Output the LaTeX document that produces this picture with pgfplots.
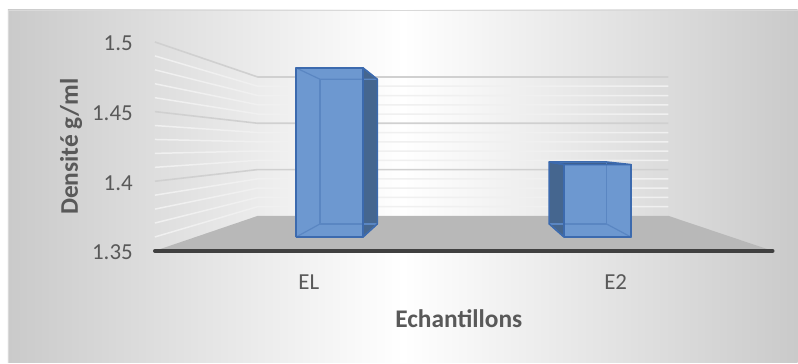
\documentclass[border=0pt]{standalone}
\usepackage{fontspec}
\setmainfont{Carlito}
\usepackage{pgfplots}
\usepackage{pgfplotstable}
\pgfplotsset{compat=1.18}

\definecolor{txt}{HTML}{595959}
\definecolor{barfront}{HTML}{6D98D0}
\definecolor{barside}{HTML}{45668F}
\definecolor{bartop}{HTML}{3F5F8C}
\definecolor{baredge}{HTML}{3C6AAE}
\definecolor{barinner}{HTML}{5A86C2}
\definecolor{floorgray}{HTML}{B8B8B8}
\definecolor{floorline}{HTML}{404040}
\definecolor{majorgrid}{HTML}{D0D0D0}
\definecolor{minorgrid}{HTML}{F0F0F0}
\definecolor{bgedge}{HTML}{CACACA}
\definecolor{frame}{HTML}{D9D9D9}

% density of each sample
\pgfplotstableread{
cat value
0   1.49
1   1.41
}\densite

% box corners: u = side (-1 left, 1 right), d = depth (0 front of floor, 1 back wall), h = 0 base / 1 top
\pgfplotstableread{
u  d    h
-1 0.30 0
1  0.30 0
1  0.30 1
-1 0.30 1
-1 0.30 0
}\faceFront
\pgfplotstableread{
u  d    h
-1 0.69 0
1  0.69 0
1  0.69 1
-1 0.69 1
-1 0.69 0
}\faceBack
\pgfplotstableread{
u  d    h
-1 0.30 0
-1 0.69 0
-1 0.69 1
-1 0.30 1
-1 0.30 0
}\faceLeft
\pgfplotstableread{
u  d    h
1  0.30 0
1  0.69 0
1  0.69 1
1  0.30 1
1  0.30 0
}\faceRight
\pgfplotstableread{
u  d    h
-1 0.30 1
1  0.30 1
1  0.69 1
-1 0.69 1
-1 0.30 1
}\faceTop
\pgfplotstableread{
u  d    h
-1 0.30 0
1  0.30 0
1  0.69 0
-1 0.69 0
-1 0.30 0
}\faceBottom

% wall gridline: along the left wall, then across the back wall
\pgfplotstableread{
X   d
155 0
155 1
773 1
}\gridpath
\pgfplotstableread{
X   d
155 0
773 0
773 1
155 1
155 0
}\floorpath
\pgfplotstableread{
X   d
155 0
773 0
}\floorfront

\pgfplotstablegetelem{0}{value}\of\densite \edef\valEL{\pgfplotsretval}
\pgfplotstablegetelem{1}{value}\of\densite \edef\valEII{\pgfplotsretval}

% one face of a column: #1 style, #2 category, #3 value, #4 corner table
\newcommand{\boxface}[4]{%
  \addplot[#1] table[
    x expr={fx(cx(#2,\thisrow{u}),\thisrow{d})},
    y expr={fy(1.35+\thisrow{h}*(#3-1.35),\thisrow{d})}] {#4};
}

\begin{document}
\begin{tikzpicture}[line join=round]
\begin{axis}[
  width=798bp, height=363bp, scale only axis,
  xmin=0, xmax=798, ymin=0, ymax=363, y dir=reverse,
  hide axis, clip=false,
  declare function={
    sc(\d)=1/(1+0.504*\d);
    fx(\X,\d)=462+(\X-462)*sc(\d);
    fy(\v,\d)=146.5+(104.5-(\v-1.35)/0.15*209)*sc(\d);
    cx(\c,\u)=155+(\c+0.5+0.125*\u)*309;
  },
]
% chart area
\fill[white] (axis cs:0,0) rectangle (axis cs:798,363);
\shade[left color=bgedge, right color=bgedge, middle color=white]
  (axis cs:8,10) rectangle (axis cs:798,363);
\draw[frame, line width=0.8] (axis cs:8,363) -- (axis cs:8,10) -- (axis cs:798,10);

% wall gridlines
\pgfplotsinvokeforeach{1.36,1.37,1.38,1.39,1.41,1.42,1.43,1.44,1.46,1.47,1.48,1.49}{
  \addplot[minorgrid, line width=1.5] table[
    x expr={fx(\thisrow{X},\thisrow{d})}, y expr={fy(#1,\thisrow{d})}] {\gridpath};
}
\pgfplotsinvokeforeach{1.4,1.45,1.5}{
  \addplot[majorgrid, line width=1.6] table[
    x expr={fx(\thisrow{X},\thisrow{d})}, y expr={fy(#1,\thisrow{d})}] {\gridpath};
}

% floor
\addplot[fill=floorgray, draw=none] table[
  x expr={fx(\thisrow{X},\thisrow{d})}, y expr={fy(1.35,\thisrow{d})}] {\floorpath};
\addplot[floorline, line width=3.8, line cap=round] table[
  x expr={fx(\thisrow{X},\thisrow{d})}, y expr={fy(1.35,\thisrow{d})}] {\floorfront};

% column EL (left of the vanishing point: right side visible)
\boxface{fill=barside, draw=none}{0}{\valEL}{\faceRight}
\boxface{fill=barfront, draw=none}{0}{\valEL}{\faceFront}
\boxface{barinner, line width=1.2}{0}{\valEL}{\faceBack}
\boxface{barinner, line width=1.2}{0}{\valEL}{\faceBottom}
\boxface{barinner, line width=1.2}{0}{\valEL}{\faceTop}
\boxface{baredge, line width=1.5}{0}{\valEL}{\faceRight}
\boxface{baredge, line width=1.5}{0}{\valEL}{\faceFront}

% column E2 (right of the vanishing point: left side and top visible)
\boxface{fill=barside, draw=none}{1}{\valEII}{\faceLeft}
\boxface{fill=bartop, draw=none}{1}{\valEII}{\faceTop}
\boxface{fill=barfront, draw=none}{1}{\valEII}{\faceFront}
\boxface{barinner, line width=1.2}{1}{\valEII}{\faceBack}
\boxface{barinner, line width=1.2}{1}{\valEII}{\faceBottom}
\boxface{baredge, line width=1.5}{1}{\valEII}{\faceLeft}
\boxface{baredge, line width=1.5}{1}{\valEII}{\faceTop}
\boxface{baredge, line width=1.5}{1}{\valEII}{\faceFront}

% value labels
\begin{scope}[every node/.style={inner sep=0pt, text=txt, font=\fontsize{23}{27}\selectfont}]
\node[anchor=base east] at (axis cs:133,51)  {1.5};
\node[anchor=base east] at (axis cs:133,120.7) {1.45};
\node[anchor=base east] at (axis cs:133,190.3) {1.4};
\node[anchor=base east] at (axis cs:133,260) {1.35};
\node[anchor=base] at (axis cs:309,290) {EL};
\node[anchor=base] at (axis cs:616,290) {E2};
\end{scope}
\begin{scope}[every node/.style={inner sep=0pt, text=txt, font=\fontsize{25.5}{30}\selectfont\bfseries}]
\node[anchor=base] at (axis cs:459,327.3) {Echantillons};
\node[anchor=base, rotate=90] at (axis cs:78,146.7) {Densité g/ml};
\end{scope}
\end{axis}
\end{tikzpicture}
\end{document}
